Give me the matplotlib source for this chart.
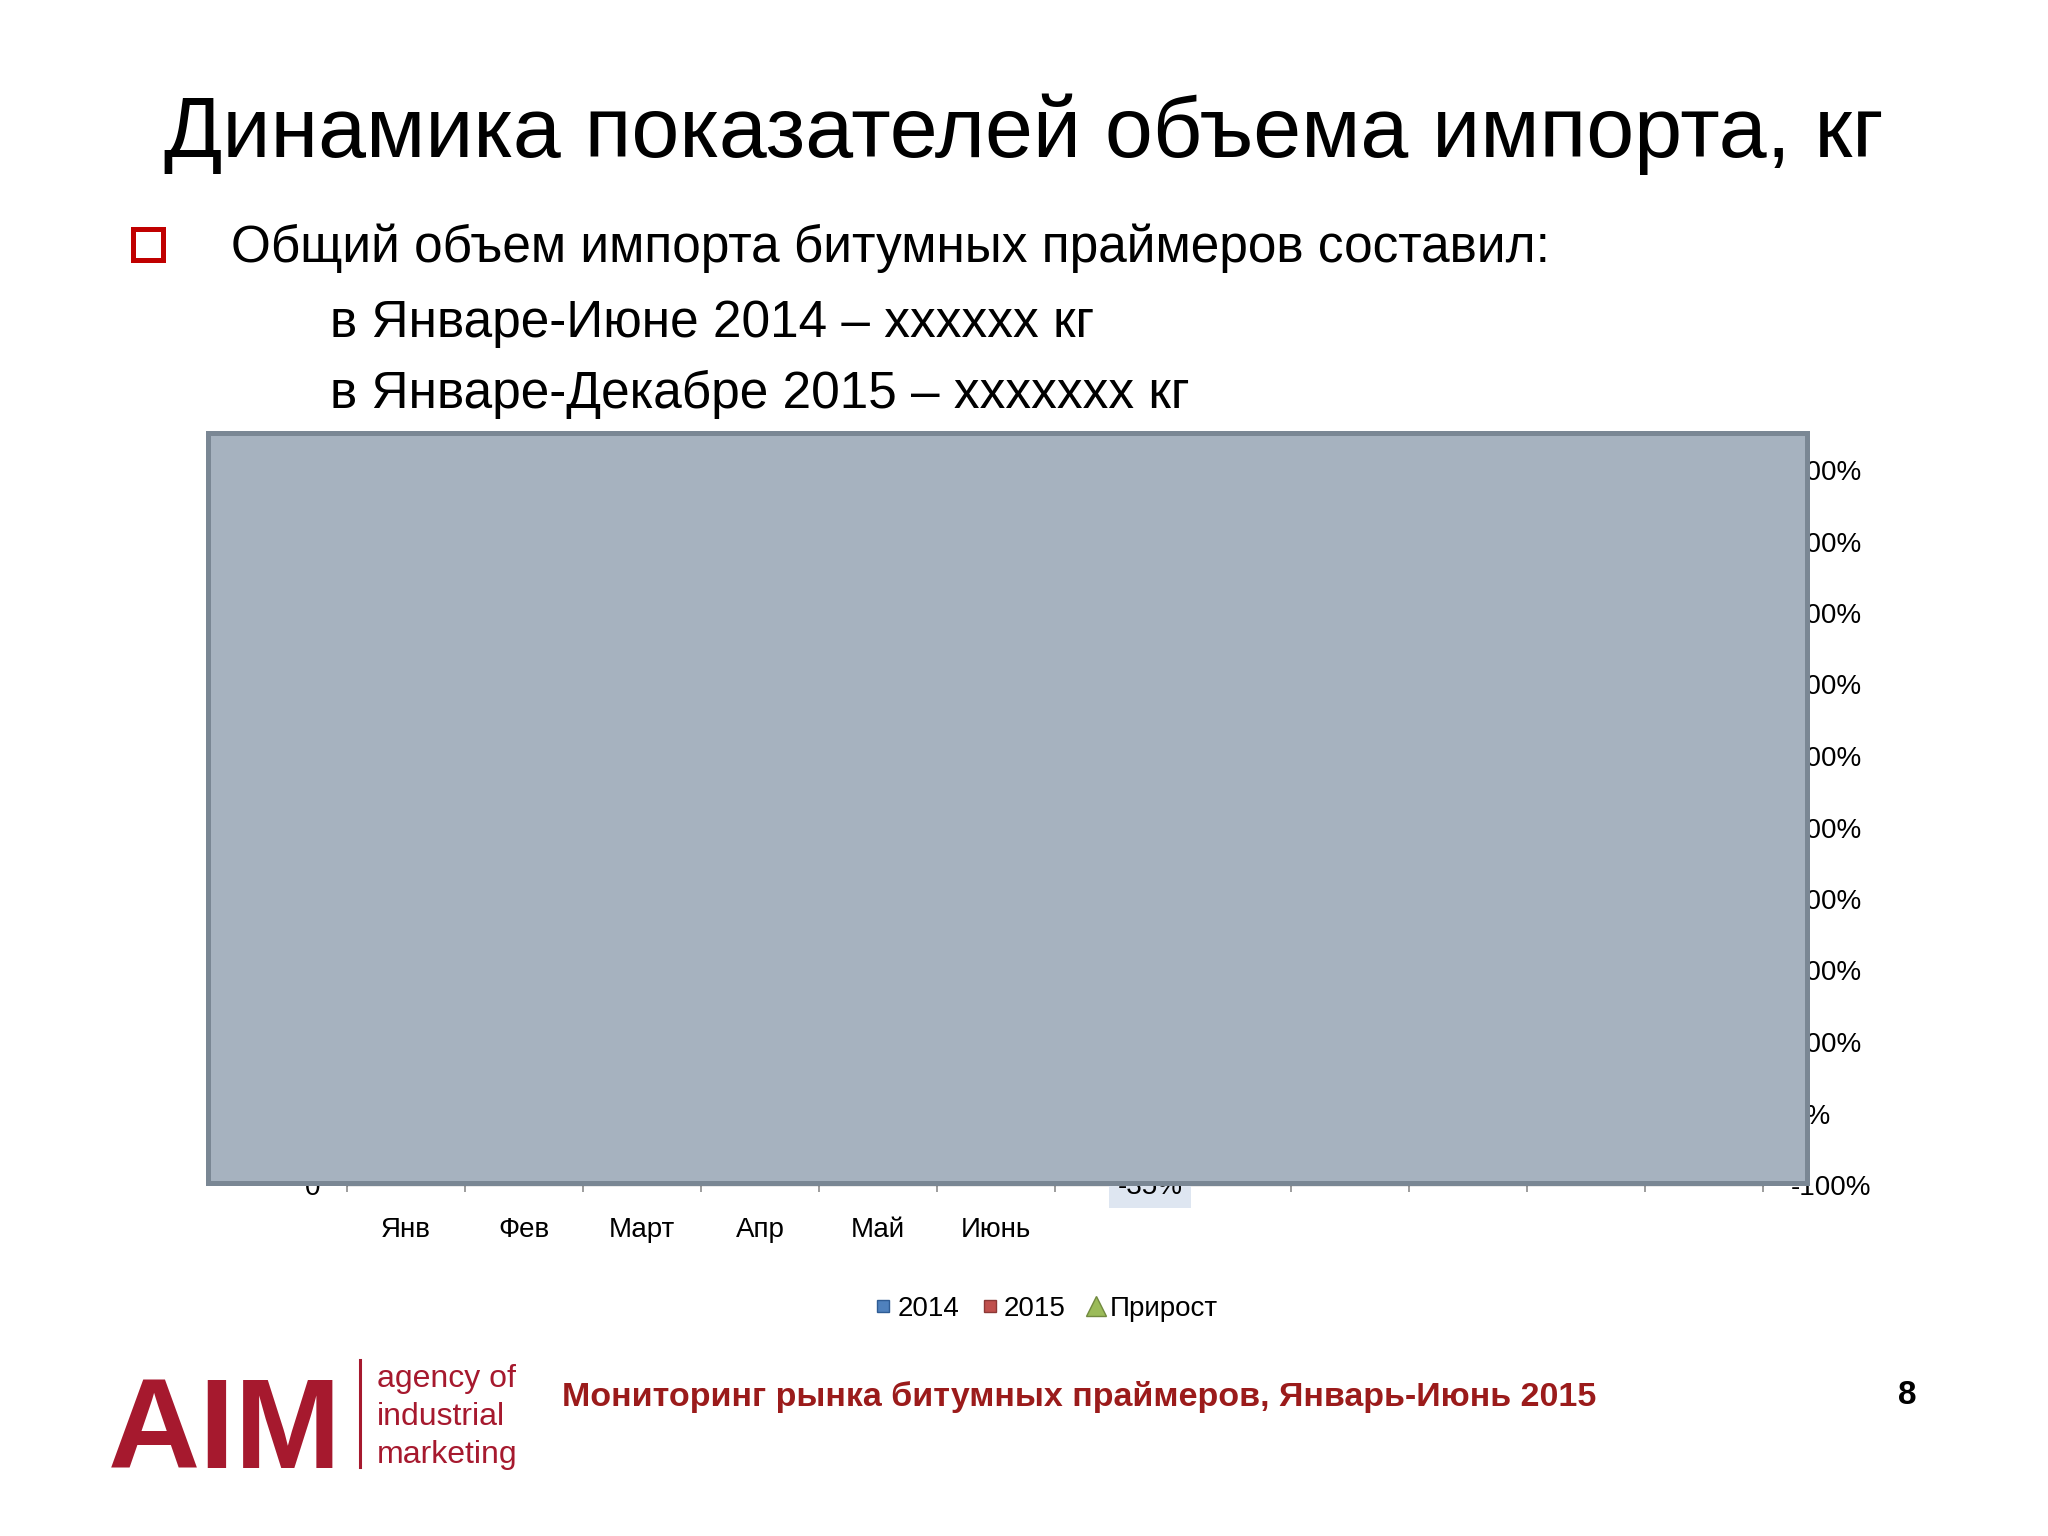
import numpy as np
import matplotlib
matplotlib.use("Agg")
import matplotlib.pyplot as plt
from matplotlib.patches import Rectangle
from matplotlib.lines import Line2D

# chart data (bars are hidden under the grey box on the slide)
months = ["Янв", "Фев", "Март", "Апр", "Май", "Июнь", "", "", "", "", "", ""]
vol_2014 = [np.nan] * 12
vol_2015 = [np.nan] * 12
growth_pct = [np.nan] * 6 + [-35] + [np.nan] * 5
pct_ticks = list(range(-100, 1000, 100))
series_names = ["2014", "2015", "Прирост"]

title = "Динамика показателей объема импорта, кг"
bullet = "Общий объем импорта битумных праймеров составил:"
sub_lines = ["в Январе-Июне 2014 – xxxxxx кг", "в Январе-Декабре 2015 – xxxxxxx кг"]
footer = "Мониторинг рынка битумных праймеров, Январь-Июнь 2015"
page_no = "8"

plt.rcParams["font.family"] = ["Liberation Sans", "DejaVu Sans"]

W, H = 2048, 1536


def fx(px):
    return px / W


def fy(py):
    return 1 - py / H


fig = plt.figure(figsize=(20.48, 15.36), dpi=100)
fig.patch.set_facecolor("white")

# --- slide texts ---
fig.text(0.5, fy(157), title, ha="center", va="baseline", fontsize=62)
fig.add_artist(Rectangle((fx(133), fy(260)), fx(30), 31 / H, transform=fig.transFigure,
                         fill=False, edgecolor="#C00000", linewidth=3.6))
fig.text(fx(231), fy(262), bullet, ha="left", va="baseline", fontsize=37)
fig.text(fx(330), fy(337), sub_lines[0], ha="left", va="baseline", fontsize=37)
fig.text(fx(330), fy(408), sub_lines[1], ha="left", va="baseline", fontsize=37)

# --- chart ---
ax = fig.add_axes([fx(347), fy(1185), (1763 - 347) / W, (1185 - 470) / H])
x = np.arange(len(months))
bw = 0.35
ax.bar(x - bw / 2, vol_2014, bw, color="#4F81BD", label=series_names[0])
ax.bar(x + bw / 2, vol_2015, bw, color="#C0504D", label=series_names[1])
ax.set_xlim(-0.5, len(months) - 0.5)
ax.set_ylim(0, 1)
ax.set_yticks([0])
ax.set_yticklabels(["0"])
ax.tick_params(axis="y", length=0, pad=19, labelsize=20)
ax.set_xticks(x)
ax.set_xticklabels(months)
ax.set_xticks(np.arange(-0.5, len(months)), minor=True)
ax.tick_params(axis="x", which="major", length=0, pad=23, labelsize=20)
ax.tick_params(axis="x", which="minor", length=5, width=1.2, color="#8C8C8C", direction="out")
for s in ax.spines.values():
    s.set_color("#8C8C8C")

ax2 = ax.twinx()
ax2.plot(x, growth_pct, "^", color="#9BBB59", markersize=14)
ax2.set_ylim(-100, 900)
ax2.set_yticks(pct_ticks)
ax2.set_yticklabels([f"{v}%" for v in pct_ticks])
ax2.tick_params(axis="y", length=0, pad=20, labelsize=20)
for i, g in enumerate(growth_pct):
    if not np.isnan(g):
        ax2.annotate(f"{g:.0f}%", (x[i], g), xytext=(26, -35), textcoords="offset points",
                     ha="center", va="center", fontsize=20, annotation_clip=False,
                     bbox=dict(boxstyle="square,pad=0.3", facecolor="#DEE6F1", edgecolor="none"))

handles = [
    Line2D([], [], marker="s", linestyle="none", markersize=9, markerfacecolor="#4F81BD",
           markeredgecolor="#2F5C94"),
    Line2D([], [], marker="s", linestyle="none", markersize=9, markerfacecolor="#C0504D",
           markeredgecolor="#8C3836"),
    Line2D([], [], marker="^", linestyle="none", markersize=14, markerfacecolor="#9BBB59",
           markeredgecolor="#71893F"),
]
fig.legend(handles, series_names, loc="center", bbox_to_anchor=(0.511, fy(1309)), ncol=3,
           frameon=False, fontsize=20, handlelength=0.6, handletextpad=0.2, columnspacing=0.8)

# grey box covering the chart
fig.add_artist(Rectangle((fx(208), fy(1183)), (1807 - 208) / W, (1183 - 433) / H,
                         transform=fig.transFigure, facecolor="#A6B2BF", edgecolor="#7A8794",
                         linewidth=3.6, zorder=10))

# --- footer / logo ---
red = "#A6192E"
fig.text(fx(108), fy(1468), "AIM", ha="left", va="baseline", fontsize=92,
         fontweight="bold", color=red)
fig.add_artist(Line2D([fx(360), fx(360)], [fy(1360), fy(1467)], transform=fig.transFigure,
                      color=red, linewidth=2.2))
for txt, base in zip(["agency of", "industrial", "marketing"], [1387, 1425, 1463]):
    fig.text(fx(377), fy(base), txt, ha="left", va="baseline", fontsize=23, color=red)
fig.text(fx(562), fy(1406), footer, ha="left", va="baseline", fontsize=24.5, fontweight="bold",
         color="#9B1B1B")
fig.text(fx(1907), fy(1404), page_no, ha="center", va="baseline", fontsize=24, fontweight="bold")

fig.savefig("out.png", dpi=100, facecolor="white")
